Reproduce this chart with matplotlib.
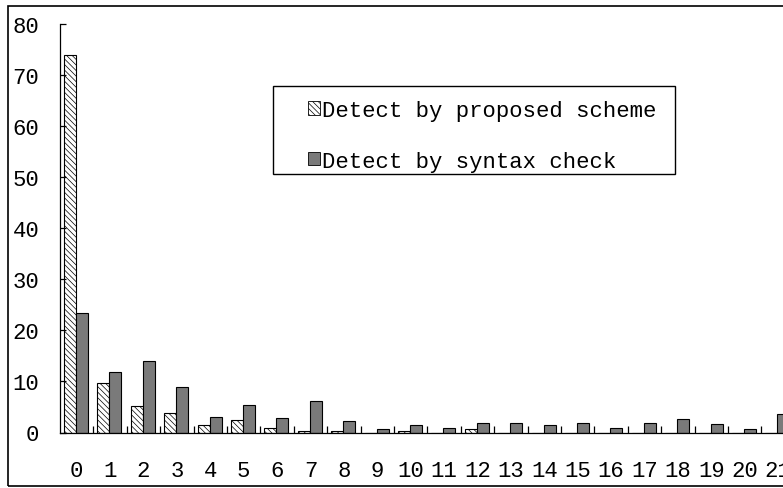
import matplotlib
matplotlib.use("Agg")
import matplotlib.pyplot as plt
import numpy as np
from matplotlib.patches import Patch, Rectangle

categories = [str(i) for i in range(22)]
proposed = [74, 9.7, 5.1, 3.8, 1.5, 2.5, 0.8, 0.3, 0.2, 0, 0.2, 0, 0.6, 0, 0, 0, 0, 0, 0, 0, 0, 0]
syntax = [23.4, 11.9, 14.0, 8.9, 3.1, 5.3, 2.9, 6.1, 2.3, 0.6, 1.4, 0.8, 1.8, 1.8,
          1.4, 1.8, 0.8, 1.8, 2.6, 1.6, 0.6, 3.6]
labels = ["Detect by proposed scheme", "Detect by syntax check"]

plt.rcParams["font.family"] = ["Liberation Mono", "DejaVu Sans"]
plt.rcParams["hatch.linewidth"] = 0.5

W, H = 783, 489
fig = plt.figure(figsize=(W / 100, H / 100), dpi=100)

# axes in pixel terms: spine at x=60, baseline y=433.5, top (80) at y=25, 33.4 px per category
left, base, top, step = 60, 433.5, 25, 33.4
ax = fig.add_axes([left / W, (H - base) / H, step * 22 / W, (base - top) / H])

x = np.arange(len(categories))
bw = 0.36
hatch = "\\" * 6
ax.bar(x - 0.2, proposed, bw, color="white", edgecolor="black", lw=0.8, hatch=hatch)
ax.bar(x + 0.16, syntax, bw, color="#7a7a7a", edgecolor="black", lw=0.8)

ax.set_xlim(-0.5, 21.5)
ax.set_ylim(0, 80)
ax.set_yticks(range(0, 81, 10))
ax.set_xticks(x)
ax.set_xticklabels(categories)
ax.set_xticks(x[:-1] + 0.5, minor=True)
for s in ["top", "right"]:
  ax.spines[s].set_visible(False)
for s in ["left", "bottom"]:
  ax.spines[s].set_linewidth(0.9)
ax.tick_params(axis="y", direction="in", length=4.5, width=0.9, pad=15, labelsize=16)
ax.tick_params(axis="x", which="major", length=0, pad=20, labelsize=16)
ax.tick_params(axis="x", which="minor", direction="in", length=5, width=0.9)

# figure frame (right side runs off the image)
fig.patches.append(Rectangle((8 / W, (H - 487) / H), 1.2, (487 - 7) / H, transform=fig.transFigure,
                             fill=False, edgecolor="black", lw=1.2))

# legend box
fig.patches.append(Rectangle((273 / W, (H - 175) / H), (675 - 273) / W, (175 - 87) / H,
                             transform=fig.transFigure, fill=False, edgecolor="black", lw=1.0))
handles = [Patch(facecolor="white", edgecolor="black", hatch=hatch, lw=0.6),
           Patch(facecolor="#7a7a7a", edgecolor="black", lw=0.6)]
fig.legend(handles, labels, loc="upper left", bbox_to_anchor=(308 / W, 1 - 101 / H),
           frameon=False, fontsize=16, borderpad=0, borderaxespad=0,
           handlelength=0.55, handleheight=0.55, handletextpad=0.1, labelspacing=1.33)

fig.savefig("out.png", dpi=100)
